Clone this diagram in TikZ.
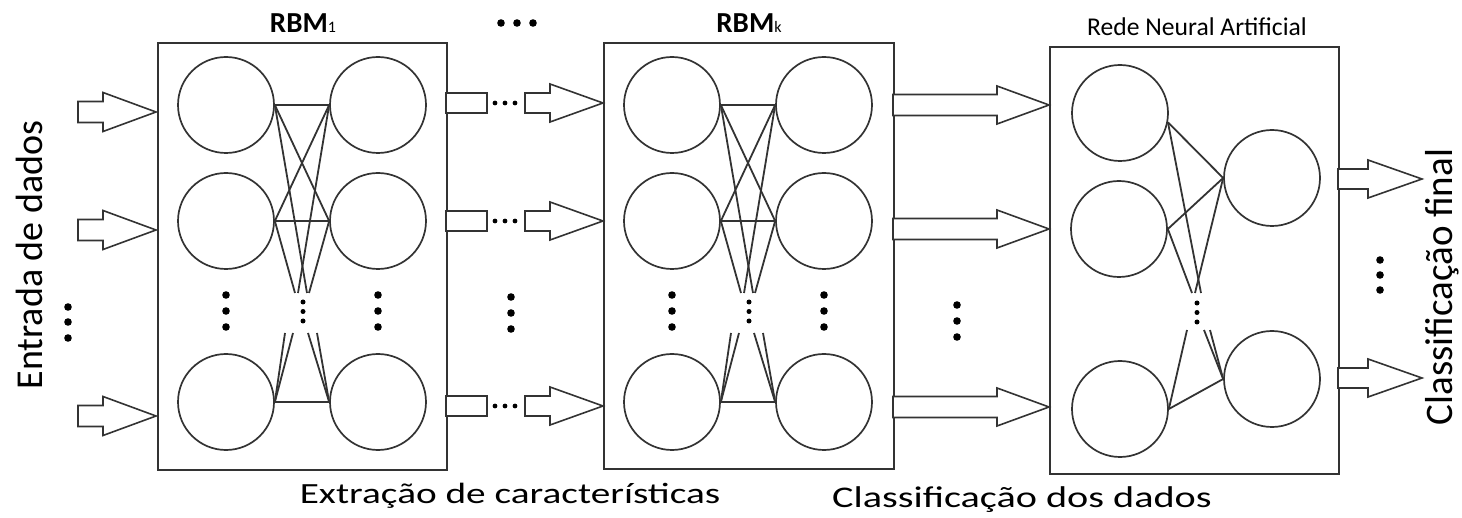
\documentclass[tikz,border=0pt]{standalone}
\usepackage{fontspec}
\setmainfont{Carlito}
\newfontfamily\widefont[FakeStretch=1.34]{Carlito}
\definecolor{lc}{HTML}{333333}
\tikzset{
  neuron/.style={circle, draw=lc, line width=1.7pt, minimum size=96pt, inner sep=0pt},
  frame/.style={draw=lc, line width=1.9pt, inner sep=0pt, anchor=north west},
  link/.style={draw=lc, line width=1.8pt},
  barrow/.style={draw=lc, line width=1.6pt, fill=white, line join=miter},
}
\newcommand{\blockarr}[6]{% x0, xh, x1, y, shaft half, head half
  \draw[barrow] ({#1},{#4-#5}) -- ({#2},{#4-#5}) -- ({#2},{#4-#6}) -- ({#3},{#4})
     -- ({#2},{#4+#6}) -- ({#2},{#4+#5}) -- ({#1},{#4+#5}) -- cycle;}
\newcommand{\rbmnet}[2]{% #1 x offset, #2 prefix
  \node[neuron] (#2v1) at ({226+#1},105) {};
  \node[neuron] (#2v2) at ({226+#1},221) {};
  \node[neuron] (#2v3) at ({226+#1},402) {};
  \node[neuron] (#2h1) at ({378+#1},105) {};
  \node[neuron] (#2h2) at ({378+#1},221) {};
  \node[neuron] (#2h3) at ({378+#1},402) {};
  \coordinate (#2ua) at ({295+#1},293);
  \coordinate (#2ub) at ({298+#1},293);
  \coordinate (#2uc) at ({307+#1},293);
  \coordinate (#2ud) at ({309+#1},293);
  \coordinate (#2la) at ({285+#1},333);
  \coordinate (#2lb) at ({293+#1},333);
  \coordinate (#2lc) at ({308+#1},333);
  \coordinate (#2ld) at ({317+#1},333);
  \draw[link] (#2v1.east) -- (#2h1.west);
  \draw[link] (#2v2.east) -- (#2h2.west);
  \draw[link] (#2v3.east) -- (#2h3.west);
  \draw[link] (#2v1.east) -- (#2h2.west);
  \draw[link] (#2h1.west) -- (#2v2.east);
  \draw[link] (#2v2.east) -- (#2ua);
  \draw[link] (#2h1.west) -- (#2ub);
  \draw[link] (#2v1.east) -- (#2uc);
  \draw[link] (#2h2.west) -- (#2ud);
  \draw[link] (#2la) -- (#2v3.east);
  \draw[link] (#2lb) -- (#2v3.east);
  \draw[link] (#2lc) -- (#2h3.west);
  \draw[link] (#2ld) -- (#2h3.west);
  \foreach \yy in {295,311,327} {
    \fill ({226+#1},\yy) circle (3.8);
    \fill ({378+#1},\yy) circle (3.8);}
  \foreach \yy in {302,311.5,321} {\fill ({303+#1},\yy) circle (2.5);}
}
\begin{document}
\begin{tikzpicture}[x=1pt,y=-1pt]
\useasboundingbox (0,0) rectangle (1462,518);
% frames
\node[frame, minimum width=289pt, minimum height=427pt] (box1) at (157,42) {};
\node[frame, minimum width=290pt, minimum height=426pt] (box2) at (603,42) {};
\node[frame, minimum width=289pt, minimum height=427pt] (box3) at (1049,46) {};
% titles
\node[font=\fontsize{29}{29}\selectfont\bfseries] (t1) at (303,23) {RBM{\fontsize{16}{16}\selectfont\mdseries 1}};
\node[font=\fontsize{29}{29}\selectfont\bfseries] (t2) at (749,23) {RBM{\fontsize{16}{16}\selectfont\mdseries k}};
\node[font=\fontsize{25.6}{26}\selectfont] (t3) at (1197,27) {Rede Neural Artificial};
\foreach \xx in {501,517,533} {\fill (\xx,23) circle (3.8);}
% side and bottom labels
\node[rotate=90, anchor=base, font=\fontsize{38}{38}\selectfont] (lin) at (42,255) {Entrada de dados};
\node[rotate=90, anchor=base, font=\fontsize{39}{39}\selectfont] (lout) at (1452,287) {Classificação final};
\node[anchor=base, font=\widefont\fontsize{29.3}{30}\selectfont] (lext) at (510,503) {Extração de características};
\node[anchor=base, font=\widefont\fontsize{30}{30}\selectfont] (lcls) at (1022,507) {Classificação dos dados};
% input arrows
\blockarr{78}{103}{156}{112}{10.5}{19.5}
\blockarr{78}{103}{156}{230}{10.5}{19.5}
\blockarr{78}{103}{156}{416}{10.5}{19.5}
\foreach \yy in {307,322,338} {\fill (68,\yy) circle (3.8);}
% RBMs
\rbmnet{0}{a}
\rbmnet{446}{b}
% between RBM1 and RBMk
\foreach \yy in {103,221,406} {
  \draw[barrow] (446,{\yy-10}) rectangle (487,{\yy+10});
  \foreach \xx in {495,505,515} {\fill (\xx,\yy) circle (2.4);}
  \blockarr{525}{550}{603}{\yy}{10}{19}
}
\foreach \yy in {297,313,329} {\fill (511,\yy) circle (3.8);}
% between RBMk and ANN
\blockarr{893}{997}{1049}{105}{10.5}{19}
\blockarr{893}{997}{1049}{229}{10.5}{19}
\blockarr{893}{997}{1049}{407}{10.5}{19}
\foreach \yy in {305,321,337} {\fill (957,\yy) circle (3.8);}
% ANN
\node[neuron] (L1) at (1120,113) {};
\node[neuron] (L2) at (1119,229) {};
\node[neuron] (L3) at (1120,409) {};
\node[neuron] (A) at (1272,178) {};
\node[neuron] (B) at (1272,379) {};
\coordinate (nu1) at (1192,293);
\coordinate (nu2) at (1195,293);
\coordinate (nu3) at (1201,293);
\coordinate (nl1) at (1187,330);
\coordinate (nl2) at (1204,330);
\coordinate (nl3) at (1210,330);
\draw[link] (L1.-11) -- (A.west);
\draw[link] (L1.-11) -- (nu3);
\draw[link] (L2.east) -- (A.west);
\draw[link] (L2.east) -- (nu1);
\draw[link] (A.west) -- (nu2);
\draw[link] (L3.east) -- (nl1);
\draw[link] (L3.east) -- (B.west);
\draw[link] (B.west) -- (nl2);
\draw[link] (B.west) -- (nl3);
\foreach \yy in {303,312.5,322} {\fill (1197,\yy) circle (2.5);}
% outputs
\blockarr{1338}{1368}{1422}{179}{10}{19}
\blockarr{1338}{1368}{1422}{378}{10}{19}
\foreach \yy in {260,275,290} {\fill (1380,\yy) circle (3.8);}
\end{tikzpicture}
\end{document}
